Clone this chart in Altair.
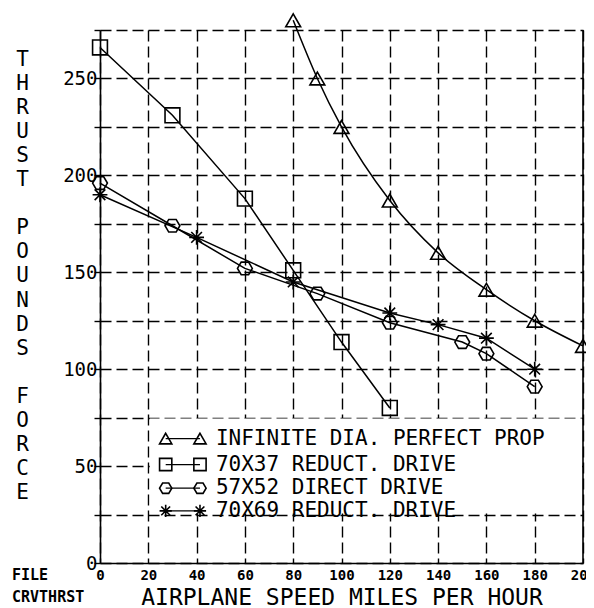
import altair as alt
import pandas as pd

# ---------------- data ----------------
series_names = [
    "INFINITE DIA. PERFECT PROP",
    "70X37 REDUCT. DRIVE",
    "57X52 DIRECT DRIVE",
    "70X69 REDUCT. DRIVE",
]
speed_inf = [80, 90, 100, 120, 140, 160, 180, 200]
thrust_inf = [280, 250, 225, 187, 160, 141, 125, 112]

speed_7037 = [0, 30, 60, 80, 100, 120]
thrust_7037 = [266, 231, 188, 151, 114, 80]

speed_5752 = [0, 30, 60, 90, 120, 150, 160, 180]
thrust_5752 = [196, 174, 152, 139, 124, 114, 108, 91]

speed_7069 = [0, 40, 80, 120, 140, 160, 180]
thrust_7069 = [190, 168, 145, 129, 123, 116, 100]

x_ticks = list(range(0, 201, 20))
y_ticks = list(range(0, 276, 25))
GAP = "\u2800"  # blank glyph so the empty line keeps its height
y_title = list("THRUST") + [GAP] + list("POUNDS") + [GAP] + list("FORCE")
x_title = "AIRPLANE SPEED MILES PER HOUR"

rows = []
for name, xs, ys in [
    (series_names[0], speed_inf, thrust_inf),
    (series_names[1], speed_7037, thrust_7037),
    (series_names[2], speed_5752, thrust_5752),
    (series_names[3], speed_7069, thrust_7069),
]:
    for a, b in zip(xs, ys):
        rows.append({"series": name, "x": a, "y": b})
df = pd.DataFrame(rows)

# ---------------- styling ----------------
MONO = "DejaVu Sans Mono"
HEX = "M-1,0L-0.5,-0.85L0.5,-0.85L1,0L0.5,0.85L-0.5,0.85Z"
STAR = "M-1,0L1,0M0,-1L0,1M-0.72,-0.72L0.72,0.72M-0.72,0.72L0.72,-0.72"
shape_range = ["triangle-up", "square", HEX, STAR]

x_scale = alt.Scale(domain=[0, 200], nice=False, zero=False)
y_scale = alt.Scale(domain=[0, 275], nice=False, zero=False)

x_axis = alt.Axis(
    values=x_ticks, grid=True, gridDash=[11, 5], gridColor="black",
    gridWidth=1.4, gridOpacity=1, domainColor="black", domainWidth=1.6,
    tickSize=0, labelFont=MONO, labelFontWeight="bold", labelFontSize=14,
    labelColor="black", labelPadding=5, labelFlush=False, labelOverlap=False,
    labelBound=False, title=x_title, titleFont=MONO, titleFontSize=23,
    titleFontWeight="normal", titleColor="black", titleBaseline="alphabetic",
    titleY=41,
)
y_axis = alt.Axis(
    values=y_ticks, grid=True, gridDash=[11, 5], gridColor="black",
    gridWidth=1.4, gridOpacity=1, domainColor="black", domainWidth=1.6,
    tickSize=6, tickColor="black", tickWidth=1.4,
    labelExpr="datum.value % 50 == 0 ? datum.label : ''",
    labelFont=MONO, labelFontSize=19, labelColor="black", labelPadding=-3,
    labelOverlap=False, labelBound=False,
    title=y_title, titleAngle=0, titleX=-78, titleY=18, titleAlign="center",
    titleBaseline="top", titleLineHeight=24.1, titleFont=MONO,
    titleFontSize=21, titleFontWeight="normal", titleColor="black",
)


def X(field):
    return alt.X(field, type="quantitative", scale=x_scale, axis=x_axis, title=x_title)


def Y(field):
    return alt.Y(field, type="quantitative", scale=y_scale, axis=y_axis, title=y_title)


shape_enc = alt.Shape("series:N", scale=alt.Scale(domain=series_names, range=shape_range), legend=None)

# legend box layout (data coordinates)
leg = pd.DataFrame({
    "series": series_names,
    "label": series_names,
    "y": [64.2, 50.8, 38.6, 26.9],
})
leg["x"] = 27.2
leg["xb"] = 41.4
leg["xt"] = 48.0

box = pd.DataFrame({"x": [20.6], "x2": [199.6], "y": [25.6], "y2": [74.6]})
border = pd.DataFrame({"x": [200], "y": [0], "y2": [275]})

box_layer = alt.Chart(box).mark_rect(color="white", opacity=1).encode(
    x=X("x"), x2="x2", y=Y("y"), y2="y2")

border_layer = alt.Chart(border).mark_rule(color="black", strokeWidth=1.6).encode(
    x=X("x"), y=Y("y"), y2="y2")

smooth = alt.Chart(df).transform_filter(alt.datum.series == series_names[0]).mark_line(
    interpolate="monotone", color="black", strokeWidth=1.5).encode(x=X("x"), y=Y("y"))

straight = alt.Chart(df).transform_filter(alt.datum.series != series_names[0]).mark_line(
    color="black", strokeWidth=1.5).encode(x=X("x"), y=Y("y"), detail="series:N")

points = alt.Chart(df).mark_point(filled=False, color="black", strokeWidth=1.6, opacity=1, size=220).encode(
    x=X("x"), y=Y("y"), shape=shape_enc)

leg_rule = alt.Chart(leg).mark_rule(color="black", strokeWidth=1.3).encode(
    x=X("x"), x2="xb", y=Y("y"))
leg_p1 = alt.Chart(leg).mark_point(filled=False, color="black", strokeWidth=1.6, opacity=1, size=150).encode(
    x=X("x"), y=Y("y"), shape=shape_enc)
leg_p2 = alt.Chart(leg).mark_point(filled=False, color="black", strokeWidth=1.6, opacity=1, size=150).encode(
    x=X("xb"), y=Y("y"), shape=shape_enc)
leg_text = alt.Chart(leg).mark_text(align="left", baseline="middle", font=MONO, fontSize=21,
                                    color="black").encode(x=X("xt"), y=Y("y"), text="label:N")

file_txt = alt.Chart(pd.DataFrame({"t": ["FILE"]})).mark_text(
    align="left", baseline="middle", font=MONO, fontWeight="bold", fontSize=15, color="black"
).encode(x=alt.value(-88), y=alt.value(545), text="t:N")
crv_txt = alt.Chart(pd.DataFrame({"t": ["CRVTHRST"]})).mark_text(
    align="left", baseline="middle", font=MONO, fontWeight="bold", fontSize=15, color="black"
).encode(x=alt.value(-88), y=alt.value(567), text="t:N")

chart = alt.layer(
    box_layer, border_layer, smooth, straight, points,
    leg_rule, leg_p1, leg_p2, leg_text, file_txt, crv_txt,
).properties(
    width=483, height=533,
    padding={"left": 92, "top": 22, "right": 3, "bottom": 45},
    autosize=alt.AutoSizeParams(type="none"),
    background="white",
).configure_view(stroke=None)

chart.save("out.html", embed_options={"renderer": "svg", "actions": False})
